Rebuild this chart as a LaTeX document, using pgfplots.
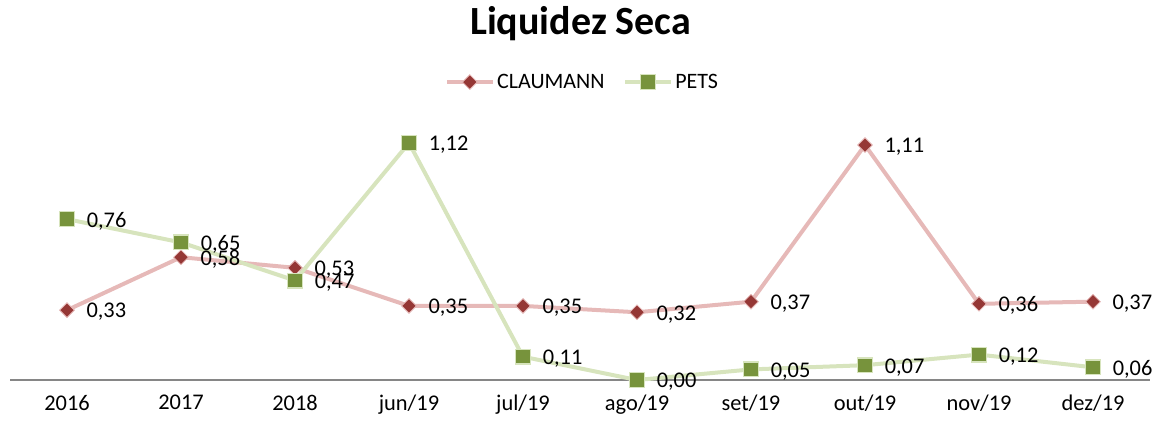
\documentclass[border=0pt]{standalone}
\usepackage{pgfplots}
\pgfplotsset{compat=1.18}
\usepackage{fontspec}
\setmainfont{Carlito}
\definecolor{claLine}{RGB}{230,185,184}
\definecolor{claMark}{RGB}{149,55,53}
\definecolor{petLine}{RGB}{215,228,189}
\definecolor{petMark}{RGB}{119,147,60}
\definecolor{axgray}{RGB}{134,134,134}
\pgfplotstableread{
x y lab
0 0.33 0,33
1 0.58 0,58
2 0.53 0,53
3 0.35 0,35
4 0.35 0,35
5 0.32 0,32
6 0.37 0,37
7 1.11 1,11
8 0.36 0,36
9 0.37 0,37
}\claumann
\pgfplotstableread{
x y lab
0 0.76 0,76
1 0.65 0,65
2 0.47 0,47
3 1.12 1,12
4 0.11 0,11
5 0.00 0,00
6 0.05 0,05
7 0.07 0,07
8 0.12 0,12
9 0.06 0,06
}\pets
\begin{document}
\begin{tikzpicture}
\path[use as bounding box] (-7.5pt,-30.75pt) rectangle (862.5pt,285pt);
\begin{axis}[
  at={(0,0)}, anchor=south west,
  scale only axis, width=855pt, height=190.5pt,
  xmin=-0.5, xmax=9.5, ymin=0, ymax=1.2,
  axis y line=none,
  axis x line*=bottom,
  x axis line style={axgray, line width=1.5pt, -},
  xtick={0,...,9},
  xticklabels={2016,2017,2018,jun/19,jul/19,ago/19,set/19,out/19,nov/19,dez/19},
  major tick length=0pt,
  xticklabel style={font=\fontsize{16.8}{20}\selectfont, yshift=-8pt},
  clip=false,
  legend columns=2,
  legend style={at={(0.5026,1.173)}, anchor=center, draw=none, fill=none,
    font=\fontsize{16.5}{20}\selectfont,
    /tikz/every even column/.append style={column sep=12pt}},
  legend image code/.code={\draw[mark repeat=2,mark phase=2,#1] plot coordinates {(0pt,0pt) (17pt,0pt) (34pt,0pt)};},
  nodes near coords,
  point meta=explicit symbolic,
  every node near coord/.append style={font=\fontsize{16.8}{20}\selectfont, anchor=west, xshift=11pt, yshift=-1.5pt, text=black},
]
\addplot[claLine, line width=3pt, mark=square*, mark size=3.9pt,
  mark options={fill=claMark, draw=claLine, line width=0.6pt, rotate=45}]
  table[x=x, y=y, meta=lab] {\claumann};
\addlegendentry{CLAUMANN}
\addplot[petLine, line width=3pt, mark=square*, mark size=5.5pt,
  mark options={fill=petMark, draw=petLine, line width=1pt}]
  table[x=x, y=y, meta=lab] {\pets};
\addlegendentry{PETS}
\end{axis}
\node[font=\fontsize{30}{36}\selectfont\bfseries] at (428pt,267pt) {Liquidez Seca};
\end{tikzpicture}
\end{document}
